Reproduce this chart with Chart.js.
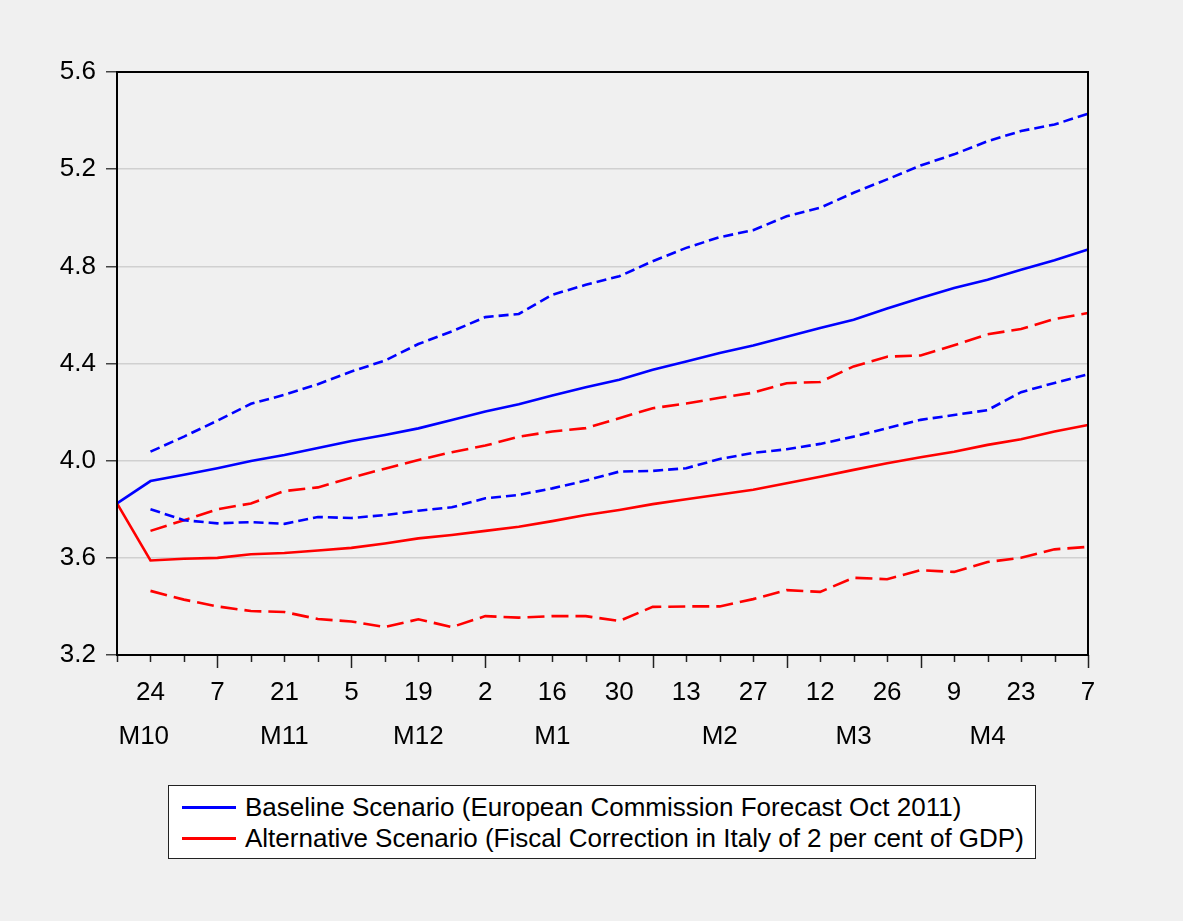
<!DOCTYPE html>
<html>
<head>
<meta charset="utf-8">
<script src="https://cdn.jsdelivr.net/npm/chart.js@4/dist/chart.umd.min.js"></script>
<style>
  html, body { margin: 0; padding: 0; background: #f0f0f0; }
  #wrap { position: relative; width: 1183px; height: 921px; }
  #legend {
    position: absolute; left: 168px; top: 785px; width: 866px; height: 72px;
    background: #fff; border: 1.5px solid #222; box-sizing: content-box;
    font-family: "Liberation Sans", Arial, sans-serif; font-size: 26px; color: #000;
  }
  .row { position: absolute; left: 0; height: 30px; line-height: 30px; white-space: nowrap; }
  .row .swatch { position: absolute; left: 13px; top: 14px; width: 54px; height: 3px; }
  .row span { position: absolute; left: 76px; top: 0; }
</style>
</head>
<body>
<div id="wrap">
  <canvas id="chart" width="1183" height="921"></canvas>
  <div id="legend">
    <div class="row" style="top:6px"><div class="swatch" style="background:#0000ff"></div><span>Baseline Scenario (European Commission Forecast Oct 2011)</span></div>
    <div class="row" style="top:37px"><div class="swatch" style="background:#ff0000"></div><span>Alternative Scenario (Fiscal Correction in Italy of 2 per cent of GDP)</span></div>
  </div>
</div>
<script>
// Weekly observations, 17 Oct 2011 to 7 May 2012 (day of month)
const days = [17,24,31,7,14,21,28,5,12,19,26,2,9,16,23,30,6,13,20,27,5,12,19,26,2,9,16,23,30,7];
// Only every other week carries a printed day label
const labelledWeeks = [1,3,5,7,9,11,13,15,17,19,21,23,25,27,29];
// First week of each new month gets a longer tick
const monthStartWeeks = [3,7,11,16,20,24,29];
const monthLabels = ['M10','M11','M12','M1','M2','M3','M4'];
const monthLabelPos = [0.8,5,9,13,18,22,26];

const yTicks = [3.2,3.6,4.0,4.4,4.8,5.2,5.6];

// Baseline scenario: central path and bands
const baseline = [3.824,3.916,3.942,3.969,3.999,4.023,4.052,4.081,4.106,4.133,4.167,4.202,4.232,4.268,4.302,4.333,4.374,4.408,4.443,4.474,4.510,4.546,4.580,4.626,4.670,4.711,4.745,4.786,4.825,4.869];
const baselineUpper = [null,4.037,4.099,4.165,4.234,4.271,4.315,4.367,4.412,4.480,4.532,4.591,4.604,4.683,4.724,4.759,4.821,4.876,4.920,4.949,5.006,5.041,5.103,5.158,5.215,5.261,5.315,5.357,5.384,5.428];
const baselineLower = [null,3.800,3.755,3.742,3.747,3.740,3.768,3.764,3.776,3.794,3.808,3.845,3.859,3.886,3.918,3.955,3.958,3.969,4.007,4.032,4.047,4.069,4.099,4.134,4.168,4.188,4.208,4.282,4.320,4.356];

// Alternative scenario: central path and bands
const alternative = [3.824,3.589,3.596,3.600,3.615,3.620,3.630,3.641,3.659,3.680,3.694,3.711,3.728,3.751,3.776,3.797,3.821,3.841,3.861,3.880,3.907,3.934,3.962,3.989,4.014,4.037,4.065,4.088,4.120,4.147];
const alternativeUpper = [null,3.711,3.755,3.800,3.824,3.875,3.890,3.930,3.967,4.003,4.035,4.062,4.099,4.120,4.134,4.175,4.216,4.235,4.259,4.280,4.319,4.324,4.388,4.428,4.433,4.475,4.520,4.542,4.583,4.608];
const alternativeLower = [null,3.464,3.428,3.400,3.381,3.377,3.348,3.338,3.315,3.347,3.315,3.360,3.354,3.360,3.360,3.340,3.398,3.400,3.400,3.430,3.467,3.460,3.518,3.512,3.549,3.542,3.583,3.600,3.635,3.645];

const BLUE = '#0000ff', RED = '#ff0000';
const FONT = '"Liberation Sans", Arial, sans-serif';

function line(label, data, color, dash) {
  return {
    label, data, borderColor: color, backgroundColor: color,
    borderWidth: 2.6, borderDash: dash || [], pointRadius: 0, tension: 0,
    spanGaps: false, fill: false, borderCapStyle: 'butt'
  };
}

// Frame around the plot, variable-length x ticks and month captions
const decorations = {
  id: 'decorations',
  afterDraw(chart) {
    const { ctx, chartArea: a, scales: { x } } = chart;
    ctx.save();
    ctx.strokeStyle = '#222';
    ctx.lineWidth = 1.5;
    days.forEach((d, i) => {
      const px = Math.round(x.getPixelForValue(i)) + 0.5;
      const len = monthStartWeeks.includes(i) ? 13 : 7;
      ctx.beginPath();
      ctx.moveTo(px, a.bottom);
      ctx.lineTo(px, a.bottom + len);
      ctx.stroke();
    });
    ctx.lineWidth = 2;
    ctx.strokeStyle = '#000';
    ctx.strokeRect(a.left, a.top, a.right - a.left, a.bottom - a.top);
    ctx.fillStyle = '#000';
    ctx.font = '26px ' + FONT;
    ctx.textAlign = 'center';
    ctx.textBaseline = 'middle';
    monthLabels.forEach((m, k) => {
      ctx.fillText(m, x.getPixelForValue(monthLabelPos[k]), 737);
    });
    ctx.restore();
  }
};

new Chart(document.getElementById('chart'), {
  type: 'line',
  data: {
    labels: days.map(String),
    datasets: [
      line('Baseline Scenario (European Commission Forecast Oct 2011)', baseline, BLUE),
      line('Baseline upper', baselineUpper, BLUE, [10, 5]),
      line('Baseline lower', baselineLower, BLUE, [10, 5]),
      line('Alternative Scenario (Fiscal Correction in Italy of 2 per cent of GDP)', alternative, RED),
      line('Alternative upper', alternativeUpper, RED, [17, 7]),
      line('Alternative lower', alternativeLower, RED, [17, 7])
    ]
  },
  options: {
    responsive: false,
    animation: false,
    layout: { padding: { left: 0, top: 72, right: 95, bottom: 0 } },
    plugins: { legend: { display: false }, tooltip: { enabled: false } },
    scales: {
      x: {
        type: 'category',
        offset: false,
        border: { display: false },
        grid: { display: true, drawOnChartArea: false, drawTicks: true, tickLength: 13, tickColor: 'rgba(0,0,0,0)' },
        ticks: {
          autoSkip: false, maxRotation: 0, minRotation: 0, padding: 9,
          color: '#000', font: { family: FONT, size: 26 },
          callback: (v, i) => labelledWeeks.includes(i) ? days[i] : ''
        },
        afterFit(s) { s.height = 921 - 655; }
      },
      y: {
        min: 3.2, max: 5.6,
        border: { display: false },
        afterBuildTicks(s) { s.ticks = yTicks.map(v => ({ value: v })); },
        grid: {
          color: (c) => (c.tick && (c.tick.value <= 3.2 || c.tick.value >= 5.6)) ? 'rgba(0,0,0,0)' : '#d0d0d0',
          lineWidth: 1.5, tickColor: '#444', tickLength: 11, tickWidth: 1.5
        },
        ticks: {
          padding: 10, color: '#000', font: { family: FONT, size: 26 },
          callback: (v) => Number(v).toFixed(1)
        },
        afterFit(s) { s.width = 117; }
      }
    }
  },
  plugins: [decorations]
});
</script>
</body>
</html>
